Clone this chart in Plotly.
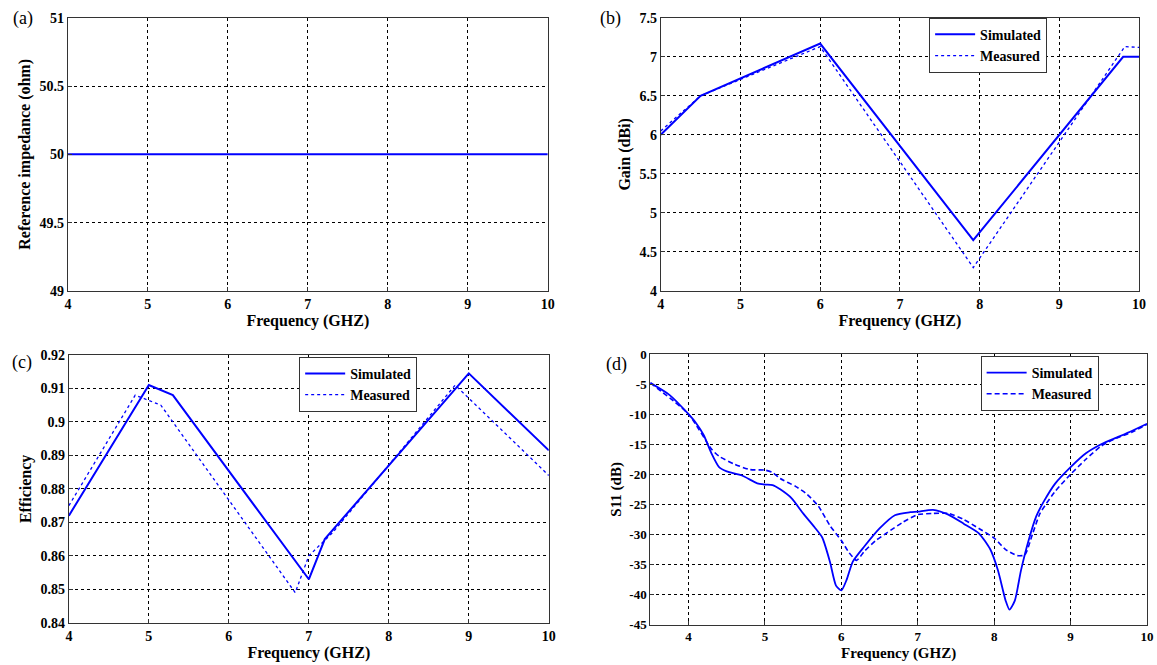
import plotly.graph_objects as go

# ---------------- data ----------------
freq_a = [4, 5, 6, 7, 8, 9, 10]
imp_a = [50, 50, 50, 50, 50, 50, 50]

freq_b_sim = [4.0, 4.5, 6.0, 7.92, 9.8, 10.0]
gain_b_sim = [6.0, 6.5, 7.17, 4.65, 7.0, 7.0]
freq_b_meas = [4.0, 4.5, 6.0, 7.92, 9.82, 10.0]
gain_b_meas = [6.05, 6.5, 7.13, 4.3, 7.13, 7.12]

freq_c_sim = [4.0, 5.0, 5.3, 7.0, 7.2, 9.0, 10.0]
eff_c_sim = [0.872, 0.911, 0.908, 0.853, 0.865, 0.9145, 0.8915]
freq_c_meas = [4.0, 4.83, 5.15, 6.83, 7.0, 7.3, 8.83, 10.0]
eff_c_meas = [0.875, 0.908, 0.905, 0.849, 0.86, 0.867, 0.911, 0.884]

freq_d_sim = [3.5, 3.75, 4.0, 4.1, 4.2, 4.3, 4.4, 4.5, 4.7, 4.9, 5.0, 5.1, 5.2, 5.35,
              5.5, 5.65, 5.75, 5.85, 5.93, 6.0, 6.07, 6.15, 6.3, 6.5, 6.7, 6.9, 7.0,
              7.2, 7.4, 7.6, 7.8, 7.95, 8.05, 8.15, 8.2, 8.27, 8.35, 8.45, 8.55, 8.65,
              8.8, 9.0, 9.2, 9.4, 9.6, 9.8, 10.0]
s11_d_sim = [-4.8, -6.8, -10.0, -11.5, -13.5, -16.5, -18.8, -19.5, -20.2, -21.5, -21.7,
             -21.8, -22.5, -24.0, -26.5, -28.8, -30.5, -34.5, -38.5, -39.3, -37.5, -34.5,
             -32.0, -29.0, -26.8, -26.3, -26.2, -25.9, -26.7, -28.2, -29.8, -32.5, -36.0,
             -41.0, -42.5, -41.0, -36.0, -31.0, -27.0, -24.5, -21.5, -18.8, -16.5, -15.0,
             -13.9, -12.8, -11.6]
freq_d_meas = [3.5, 4.0, 4.3, 4.4, 4.6, 4.8, 5.0, 5.1, 5.2, 5.4, 5.55, 5.7, 5.85, 6.0,
               6.1, 6.2, 6.3, 6.45, 6.6, 6.8, 7.0, 7.2, 7.4, 7.6, 7.8, 8.0, 8.15, 8.3,
               8.4, 8.5, 8.6, 8.8, 9.0, 9.2, 9.4, 9.6, 9.8, 10.0]
s11_d_meas = [-4.8, -10.0, -15.8, -17.0, -18.3, -19.2, -19.3, -19.7, -20.7, -22.0, -23.3,
              -25.3, -28.5, -31.0, -33.0, -34.3, -32.8, -31.0, -29.7, -28.0, -26.7, -26.5,
              -26.5, -27.5, -29.0, -30.6, -32.5, -33.5, -33.4, -30.0, -26.5, -22.8, -20.0,
              -17.5, -15.3, -14.0, -13.0, -11.7]

x_ticks = [4, 5, 6, 7, 8, 9, 10]
x_ticktext = ["4", "5", "6", "7", "8", "9", "10"]
a_yticks = [49, 49.5, 50, 50.5, 51]
a_yticktext = ["49", "49.5", "50", "50.5", "51"]
b_yticks = [4, 4.5, 5, 5.5, 6, 6.5, 7, 7.5]
b_yticktext = ["4", "4.5", "5", "5.5", "6", "6.5", "7", "7.5"]
c_yticks = [0.84, 0.85, 0.86, 0.87, 0.88, 0.89, 0.90, 0.91, 0.92]
c_yticktext = ["0.84", "0.85", "0.86", "0.87", "0.88", "0.89", "0.9", "0.91", "0.92"]
d_yticks = [-45, -40, -35, -30, -25, -20, -15, -10, -5, 0]
d_yticktext = ["-45", "-40", "-35", "-30", "-25", "-20", "-15", "-10", "-5", "0"]

# ---------------- figure ----------------
W, H = 1157, 665
BLUE = "#0000ff"
SERIF = "Liberation Serif"


def px_x(a, b):
    return [a / W, b / W]


def px_y(top, bottom):
    return [1 - bottom / H, 1 - top / H]


def bold(labels):
    return ["<b>%s</b>" % t for t in labels]


fig = go.Figure()

fig.add_trace(go.Scatter(x=freq_a, y=imp_a, mode="lines", line=dict(color=BLUE, width=2),
                         xaxis="x", yaxis="y", showlegend=False))

fig.add_trace(go.Scatter(x=freq_b_sim, y=gain_b_sim, mode="lines", name="<b>Simulated</b>",
                         line=dict(color=BLUE, width=2), xaxis="x2", yaxis="y2", legend="legend"))
fig.add_trace(go.Scatter(x=freq_b_meas, y=gain_b_meas, mode="lines", name="<b>Measured</b>",
                         line=dict(color=BLUE, width=1.3, dash="dot"), xaxis="x2", yaxis="y2",
                         legend="legend"))

fig.add_trace(go.Scatter(x=freq_c_sim, y=eff_c_sim, mode="lines", name="<b>Simulated</b>",
                         line=dict(color=BLUE, width=2), xaxis="x3", yaxis="y3", legend="legend2"))
fig.add_trace(go.Scatter(x=freq_c_meas, y=eff_c_meas, mode="lines", name="<b>Measured</b>",
                         line=dict(color=BLUE, width=1.3, dash="dot"), xaxis="x3", yaxis="y3",
                         legend="legend2"))

fig.add_trace(go.Scatter(x=freq_d_sim, y=s11_d_sim, mode="lines", name="<b>Simulated</b>",
                         line=dict(color=BLUE, width=1.8, shape="spline", smoothing=0.6),
                         xaxis="x4", yaxis="y4", legend="legend3"))
fig.add_trace(go.Scatter(x=freq_d_meas, y=s11_d_meas, mode="lines", name="<b>Measured</b>",
                         line=dict(color=BLUE, width=1.6, dash="5px,3px", shape="spline",
                                   smoothing=0.6),
                         xaxis="x4", yaxis="y4", legend="legend3"))


def axis(domain, rng, tickvals, ticktext, title, anchor, fsize=14, tsize=16):
    return dict(
        domain=domain, range=rng, anchor=anchor,
        tickmode="array", tickvals=tickvals, ticktext=bold(ticktext),
        showgrid=True, gridcolor="#000000", gridwidth=1, griddash="3px,3px",
        showline=True, linecolor="#333333", linewidth=1, mirror=True,
        ticks="inside", ticklen=4, tickcolor="#333333",
        zeroline=False,
        tickfont=dict(family=SERIF, size=fsize, color="#000000"),
        title=dict(text="<b>%s</b>" % title, font=dict(family=SERIF, size=tsize, color="#000000"),
                   standoff=4),
    )


layout = dict(
    width=W, height=H, margin=dict(l=0, r=0, t=0, b=0),
    paper_bgcolor="white", plot_bgcolor="white",
    xaxis=axis(px_x(64.5, 549), [4, 10], x_ticks, x_ticktext, "Frequency (GHZ)", "y"),
    yaxis=axis(px_y(11, 290.5), [49, 51], a_yticks, a_yticktext, "Reference impedance (ohm)", "x"),
    xaxis2=axis(px_x(663, 1146), [4, 10], x_ticks, x_ticktext, "Frequency (GHZ)", "y2"),
    yaxis2=axis(px_y(11, 290.5), [4, 7.5], b_yticks, b_yticktext, "Gain (dBi)", "x2"),
    xaxis3=axis(px_x(65.5, 550), [4, 10], x_ticks, x_ticktext, "Frequency (GHZ)", "y3"),
    yaxis3=axis(px_y(356, 630), [0.84, 0.92], c_yticks, c_yticktext, "Efficiency", "x3"),
    xaxis4=axis(px_x(652.5, 1154), [3.5, 10], x_ticks, x_ticktext, "Frequency (GHZ)", "y4",
                fsize=13, tsize=15),
    yaxis4=axis(px_y(355, 632), [-45, 0], d_yticks, d_yticktext, "S11 (dB)", "x4",
                fsize=13, tsize=15),
)

legend_style = dict(bgcolor="white", bordercolor="#333333", borderwidth=1,
                    font=dict(family=SERIF, size=14, color="#000000"),
                    xanchor="left", yanchor="top", tracegroupgap=0, itemwidth=40)
layout["legend"] = dict(legend_style, x=934 / W, y=1 - 11 / H)
layout["legend2"] = dict(legend_style, x=298 / W, y=1 - 358 / H)
layout["legend3"] = dict(legend_style, x=986 / W, y=1 - 357 / H)

fig.update_layout(**layout)

for label, xp, yp in [("(a)", 19, 12), ("(b)", 612, 12), ("(c)", 18, 364), ("(d)", 618, 366)]:
    fig.add_annotation(text=label, x=xp / W, y=1 - yp / H, xref="paper", yref="paper",
                       showarrow=False, xanchor="center", yanchor="middle",
                       font=dict(family=SERIF, size=18, color="#000000"))

fig.write_html("out.html", config={"displayModeBar": False},
               post_script="document.body.style.margin='0px';"
                           "document.body.style.overflow='hidden';"
                           "document.documentElement.style.overflow='hidden';")
